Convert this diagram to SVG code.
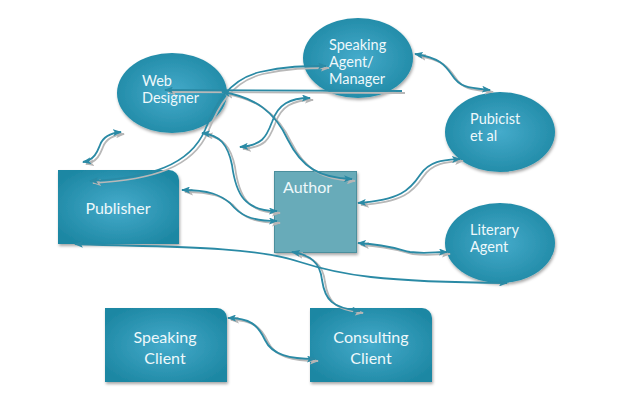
<svg xmlns="http://www.w3.org/2000/svg" width="618" height="406" viewBox="0 0 618 406">
<defs>
<radialGradient id="g" cx="50%" cy="50%" r="60%">
<stop offset="0" stop-color="#45abcb"/>
<stop offset="1" stop-color="#1d87a3"/>
</radialGradient>
<filter id="sh" x="-20%" y="-20%" width="140%" height="140%">
<feDropShadow dx="1" dy="2" stdDeviation="1.5" flood-color="#000" flood-opacity="0.35"/>
</filter>
<marker id="a" viewBox="0 0 9 7" refX="8" refY="3.5" markerWidth="9" markerHeight="7" markerUnits="userSpaceOnUse" orient="auto-start-reverse">
<path d="M0,0 L9,3.5 L0,7 L2,3.5 z" fill="#2a8aa5"/>
</marker>
<marker id="ag" viewBox="0 0 9 7" refX="8" refY="3.5" markerWidth="9" markerHeight="7" markerUnits="userSpaceOnUse" orient="auto-start-reverse">
<path d="M0,0 L9,3.5 L0,7 L2,3.5 z" fill="#b5b5b5"/>
</marker>
</defs>
<style>
.n{fill:url(#g);filter:url(#sh)}
.t{font-family:Lato,"Open Sans",sans-serif;font-size:16px;fill:#eef8fb}
.e{font-size:14.5px}
.c{fill:none;stroke:#2a8aa5;stroke-width:1.8;marker-start:url(#a);marker-end:url(#a)}
.s{fill:none;stroke:#b8b8b8;stroke-width:1.8;marker-start:url(#ag);marker-end:url(#ag)}
</style>

<g id="web-designer"><ellipse class="n" cx="172" cy="93" rx="55" ry="40"/><text class="t e" x="142" y="86">Web</text><text class="t e" x="142" y="103">Designer</text></g>
<g id="speaking-agent"><ellipse class="n" cx="358" cy="58" rx="55" ry="40"/><text class="t e" x="329" y="50">Speaking</text><text class="t e" x="329" y="67">Agent/</text><text class="t e" x="329" y="84">Manager</text></g>
<g id="pubicist"><ellipse class="n" cx="500" cy="132" rx="55" ry="40"/><text class="t e" x="470" y="124">Pubicist</text><text class="t e" x="470" y="141">et al</text></g>
<g id="literary-agent"><ellipse class="n" cx="500" cy="243" rx="55" ry="40"/><text class="t e" x="470" y="235">Literary</text><text class="t e" x="470" y="252">Agent</text></g>
<g id="publisher"><path class="n" d="M58,170 H169 A10,10 0 0 1 179,180 V244 H58 Z"/><text class="t" x="118" y="214" text-anchor="middle">Publisher</text></g>
<g id="author"><rect x="274.5" y="171.5" width="82" height="81" fill="#67abb9" stroke="#4b8f9d" stroke-width="1" filter="url(#sh)"/><text class="t" x="283" y="193">Author</text></g>
<g id="speaking-client"><path class="n" d="M105,308 H217 A10,10 0 0 1 227,318 V382 H105 Z"/><text class="t" x="165" y="343" text-anchor="middle">Speaking</text><text class="t" x="165" y="364" text-anchor="middle">Client</text></g>
<g id="consulting-client"><path class="n" d="M310,308 H422 A10,10 0 0 1 432,318 V382 H310 Z"/><text class="t" x="371" y="343" text-anchor="middle">Consulting</text><text class="t" x="371" y="364" text-anchor="middle">Client</text></g>

<g id="connectors">
<g transform="translate(3,2)">
<path class="s" d="M83,162 C95,160 98,150 100,145 C103,137 110,133 121,132"/>
<path class="s" d="M90,181 C150,178 190,165 205,130 C215,105 228,80 260,72 C285,66 305,66 326,66"/>
<path class="s" d="M165,90 L402,91" style="marker-end:none"/>
<path class="s" d="M222,92 C255,97 275,112 288,140 C302,168 320,178 352,179"/>
<path class="s" d="M240,147 C262,145 266,138 272,122 C278,104 290,98 310,98"/>
<path class="s" d="M202,133 C220,135 228,145 232,165 C236,195 245,211 277,211"/>
<path class="s" d="M182,190 C210,190 220,195 230,203 C240,215 250,221 277,221"/>
<path class="s" d="M358,203 C400,200 410,190 420,175 C430,160 445,160 460,159"/>
<path class="s" d="M415,54 C440,58 445,65 452,75 C460,88 470,88 490,90"/>
<path class="s" d="M358,243 C390,245 400,250 410,252 C425,254 435,252 447,252"/>
<path class="s" d="M292,252 C310,255 320,262 322,280 C325,300 332,308 360,311"/>
<path class="s" d="M228,318 C250,318 258,325 265,340 C272,355 290,359 315,359"/>
</g>
<path class="c" d="M83,162 C95,160 98,150 100,145 C103,137 110,133 121,132"/>
<path class="c" d="M90,181 C150,178 190,165 205,130 C215,105 228,80 260,72 C285,66 305,66 326,66"/>
<path class="c" d="M165,90 L402,91" style="marker-end:none"/>
<path class="c" d="M222,92 C255,97 275,112 288,140 C302,168 320,178 352,179"/>
<path class="c" d="M240,147 C262,145 266,138 272,122 C278,104 290,98 310,98"/>
<path class="c" d="M202,133 C220,135 228,145 232,165 C236,195 245,211 277,211"/>
<path class="c" d="M182,190 C210,190 220,195 230,203 C240,215 250,221 277,221"/>
<path class="c" d="M358,203 C400,200 410,190 420,175 C430,160 445,160 460,159"/>
<path class="c" d="M415,54 C440,58 445,65 452,75 C460,88 470,88 490,90"/>
<path class="c" d="M358,243 C390,245 400,250 410,252 C425,254 435,252 447,252"/>
<path class="c" d="M75,244 C150,247 250,245 300,262 C340,275 380,282 507,283"/>
<path class="c" d="M292,252 C310,255 320,262 322,280 C325,300 332,308 360,311"/>
<path class="c" d="M228,318 C250,318 258,325 265,340 C272,355 290,359 315,359"/>
</g>
</svg>
